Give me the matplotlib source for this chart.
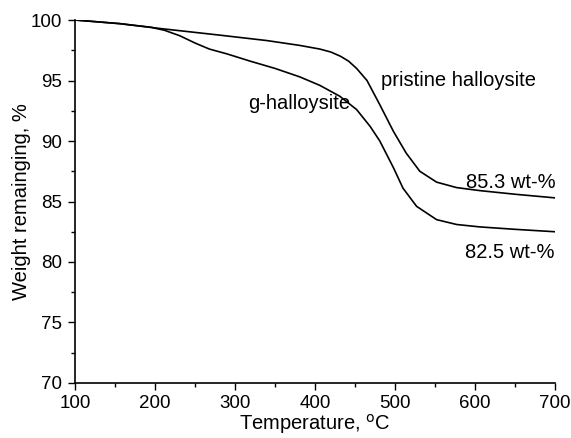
import matplotlib
matplotlib.use("Agg")
import matplotlib.pyplot as plt
from matplotlib.ticker import MultipleLocator

plt.rcParams['font.family'] = ['Liberation Sans', 'DejaVu Sans']

# pristine halloysite
t_pristine = [100, 156, 206, 281, 340, 381, 406, 420, 432, 442, 452, 465, 481, 498, 514, 531, 552, 577, 606, 650, 700]
w_pristine = [100.0, 99.7, 99.3, 98.75, 98.3, 97.9, 97.6, 97.35, 97.0, 96.6, 96.0, 95.0, 93.0, 90.8, 89.0, 87.5, 86.6, 86.15, 85.9, 85.6, 85.3]

# g-halloysite
t_g = [100, 156, 195, 212, 231, 250, 268, 290, 319, 350, 381, 406, 431, 452, 469, 481, 498, 510, 527, 552, 577, 606, 650, 700]
w_g = [100.0, 99.7, 99.4, 99.15, 98.7, 98.1, 97.6, 97.2, 96.6, 96.0, 95.3, 94.6, 93.7, 92.6, 91.2, 90.0, 87.8, 86.1, 84.6, 83.5, 83.1, 82.9, 82.7, 82.5]

fig = plt.figure(figsize=(5.71, 4.38), dpi=100)
ax = fig.add_axes([0.1313, 0.1256, 0.8407, 0.8287])

ax.plot(t_pristine, w_pristine, color='black', lw=1.2)
ax.plot(t_g, w_g, color='black', lw=1.2)

ax.text(482, 95.0, 'pristine halloysite', fontsize=14.5, va='center')
ax.text(317, 93.1, 'g-halloysite', fontsize=14.5, va='center')
ax.text(589, 86.6, '85.3 wt-%', fontsize=14.5, va='center')
ax.text(587, 80.8, '82.5 wt-%', fontsize=14.5, va='center')

ax.set_xlim(100, 700)
ax.set_ylim(70, 100)
ax.xaxis.set_major_locator(MultipleLocator(100))
ax.xaxis.set_minor_locator(MultipleLocator(50))
ax.yaxis.set_major_locator(MultipleLocator(5))
ax.yaxis.set_minor_locator(MultipleLocator(2.5))
ax.tick_params(which='major', direction='out', length=5, width=1, labelsize=13.5, pad=4)
ax.tick_params(which='minor', direction='out', length=3, width=1)
ax.spines['top'].set_visible(False)
ax.spines['right'].set_visible(False)
ax.spines['left'].set_linewidth(1.2)
ax.spines['bottom'].set_linewidth(1.2)

ax.set_xlabel('Temperature, $^{\\mathrm{o}}$C', fontsize=14.5, labelpad=0)
ax.set_ylabel('Weight remainging, %', fontsize=14.5, labelpad=0)

fig.savefig('out.png', dpi=100)
